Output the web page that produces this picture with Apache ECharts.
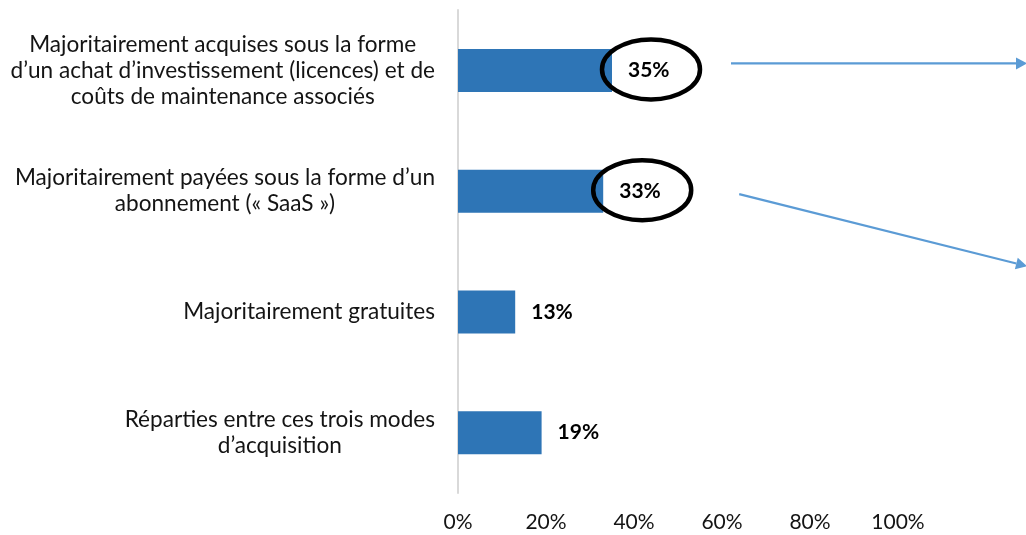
<!DOCTYPE html>
<html>
<head>
<meta charset="utf-8">
<script src="https://cdn.jsdelivr.net/npm/echarts@6/dist/echarts.min.js"></script>
<style>
  html, body { margin: 0; padding: 0; background: #ffffff; }
  #chart { width: 1026px; height: 535px; }
</style>
</head>
<body>
<div id="chart"></div>
<script>
// Modes d'acquisition des solutions (part des répondants, en %)
const categories = [
  "Majoritairement acquises sous la forme\nd\u2019un achat d\u2019investissement (licences) et de\nco\u00fbts de maintenance associ\u00e9s",
  "Majoritairement pay\u00e9es sous la forme d\u2019un\nabonnement (\u00ab SaaS \u00bb)",
  "Majoritairement gratuites",
  "R\u00e9parties entre ces trois modes\nd\u2019acquisition"
];
const values = [35, 33, 13, 19];
const xTicks = [0, 20, 40, 60, 80, 100];
// Bars whose value is circled and pointed at
const highlighted = [0, 1];

const FONT = "Lato, 'Open Sans', 'Liberation Sans', sans-serif";
const BLUE = "#2e75b6";
const ARROW = "#5b9bd5";
const TEXT = "#141414";

// Arrow geometry, relative to the circled label (start) and to the bar centre (end)
const arrowGeom = [
  { dx0: 80, dy0: -6, dy1: -7 },
  { dx0: 97, dy0: 4, dy1: 75 }
];

const circled = highlighted.map(i => [values[i], i]);

const chart = echarts.init(document.getElementById("chart"), null, { renderer: "canvas" });

chart.setOption({
  backgroundColor: "#ffffff",
  animation: false,
  grid: { left: 458, right: 128, top: 10, bottom: 42, containLabel: false },
  xAxis: {
    type: "value",
    min: xTicks[0],
    max: xTicks[xTicks.length - 1],
    interval: xTicks[1] - xTicks[0],
    axisLine: { show: false },
    axisTick: { show: false },
    splitLine: { show: false },
    axisLabel: {
      formatter: "{value}%",
      fontFamily: FONT,
      fontSize: 21,
      color: TEXT,
      margin: 19
    }
  },
  yAxis: {
    type: "category",
    inverse: true,
    data: categories,
    axisLine: { show: true, lineStyle: { color: "#d9d9d9", width: 2 } },
    axisTick: { show: false },
    splitLine: { show: false },
    axisLabel: {
      margin: 23,
      fontFamily: FONT,
      fontSize: 22.6,
      color: TEXT,
      lineHeight: 26,
      formatter: function (v) {
        return v.split("\n").map(l => "{c|" + l + "}").join("\n");
      },
      rich: {
        c: { align: "center", fontFamily: FONT, fontSize: 22.6, color: TEXT, lineHeight: 26 }
      }
    }
  },
  series: [
    {
      type: "bar",
      data: values,
      barWidth: 43,
      itemStyle: { color: BLUE },
      label: {
        show: true,
        position: "right",
        distance: 16,
        formatter: "{c}%",
        fontFamily: FONT,
        fontWeight: "bold",
        fontSize: 21,
        color: "#000000"
      }
    },
    {
      type: "custom",
      coordinateSystem: "cartesian2d",
      clip: false,
      silent: true,
      z: 5,
      encode: { x: 0, y: 1 },
      data: circled,
      renderItem: function (params, api) {
        const p = api.coord([api.value(0), api.value(1)]);
        const cx = p[0] + 39;
        const cy = p[1] - 1;
        const g = arrowGeom[params.dataIndex];
        const x0 = cx + g.dx0, y0 = cy + g.dy0;
        const x1 = api.getWidth() + 1, y1 = p[1] + g.dy1;
        const ang = Math.atan2(y1 - y0, x1 - x0);
        const L = 11, W = 6;
        const bx = x1 - L * Math.cos(ang), by = y1 - L * Math.sin(ang);
        const nx = -Math.sin(ang) * W, ny = Math.cos(ang) * W;
        return {
          type: "group",
          children: [
            {
              type: "ellipse",
              shape: { cx: cx, cy: cy, rx: 49, ry: 30 },
              style: { fill: null, stroke: "#000000", lineWidth: 4.5 }
            },
            {
              type: "line",
              shape: { x1: x0, y1: y0, x2: bx, y2: by },
              style: { stroke: ARROW, lineWidth: 2.2 }
            },
            {
              type: "polygon",
              shape: { points: [[x1, y1], [bx + nx, by + ny], [bx - nx, by - ny]] },
              style: { fill: ARROW }
            }
          ]
        };
      }
    }
  ]
});
</script>
</body>
</html>
